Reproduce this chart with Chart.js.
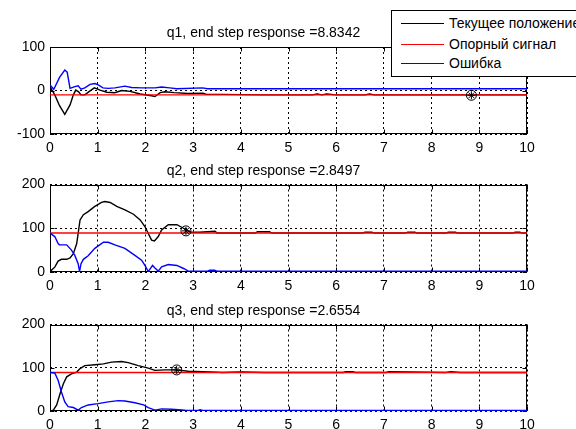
<!DOCTYPE html>
<html>
<head>
<meta charset="utf-8">
<script src="https://cdn.jsdelivr.net/npm/chart.js@4"></script>
<style>
  body { margin: 0; background: #fff; }
  #wrap { position: relative; width: 576px; height: 429px; overflow: hidden; font-family: "Liberation Sans", Arial, sans-serif; }
  canvas { position: absolute; left: 0; top: 0; }
  #legend { position: absolute; left: 391px; top: 10px; width: 240px; height: 65px; border: 1px solid #000; background: #fff; font-size: 14px; color: #000; z-index: 5; }
  #legend .row { position: absolute; left: 0; width: 100%; height: 20px; line-height: 20px; }
  #legend .row i { position: absolute; left: 9px; top: 10px; width: 43px; height: 1px; }
  #legend .row span { position: absolute; left: 57px; white-space: nowrap; }
</style>
</head>
<body>
<div id="wrap">
  <canvas id="q1" width="576" height="429"></canvas>
  <canvas id="q2" width="576" height="429"></canvas>
  <canvas id="q3" width="576" height="429"></canvas>
  <div id="legend"></div>
</div>
<script>
// подписи серий
const seriesNames = ['Текущее положение', 'Опорный сигнал', 'Ошибка'];

// q1
const q1PosT = [0, 0.1, 0.2, 0.31, 0.42, 0.49, 0.54, 0.6, 0.65, 0.73, 0.84, 0.93, 1.05, 1.19, 1.36, 1.5, 1.68, 1.89, 2.13, 2.2, 2.31, 2.41, 2.6, 2.9, 3.21, 3.28, 3.6, 4.5, 5.5, 5.6, 5.7, 5.8, 6.0, 6.6, 6.7, 6.8, 8, 9, 10];
const q1Pos  = [9, -10, -35, -55, -33, -10, 1, -3, -10, -10, -1, 6, 1, -4, -5, 0, -2, -8, -12, -14, -5, -3, -5, -7, -6, -9, -9, -10, -10, -8, -10, -8, -10, -10, -8, -10, -10, -10, -10];
const q1ErrT = [0, 0.08, 0.2, 0.31, 0.36, 0.42, 0.52, 0.59, 0.65, 0.73, 0.84, 0.94, 1.01, 1.11, 1.22, 1.36, 1.57, 1.71, 1.92, 2.2, 2.34, 2.51, 2.66, 3.2, 3.3, 4, 10];
const q1Err  = [13, 3, 30, 47, 42, 5, 9, 11, 3, 6, 14, 16, 13, 6, 5, 6, 10, 7, 6, 6, 8, 6, 4, 6, 4, 4, 4];
const q1Ref = -10;
const q1End = 8.8342;
const q1EndVal = -11;

// q2
const q2PosT = [0, 0.1, 0.17, 0.24, 0.35, 0.42, 0.49, 0.56, 0.63, 0.7, 0.8, 0.94, 1.08, 1.15, 1.26, 1.4, 1.57, 1.75, 1.89, 1.99, 2.06, 2.13, 2.19, 2.27, 2.34, 2.48, 2.66, 2.8, 2.94, 3.14, 3.46, 3.5, 4.3, 4.35, 4.6, 4.65, 6.55, 6.6, 6.75, 6.8, 7.45, 7.5, 7.65, 7.7, 8.3, 8.35, 8.5, 8.55, 9.7, 9.75, 9.85, 9.9, 10];
const q2Pos  = [1, 11, 25, 29, 29, 32, 42, 65, 119, 131, 138, 150, 159, 161, 159, 150, 142, 132, 119, 104, 88, 73, 71, 81, 96, 108, 108, 100, 91, 91, 93, 89, 89, 92, 92, 89, 89, 91, 91, 89, 89, 91, 91, 89, 89, 91, 91, 89, 89, 91, 91, 89, 89];
const q2ErrT = [0, 0.1, 0.17, 0.2, 0.35, 0.45, 0.52, 0.59, 0.62, 0.65, 0.7, 0.8, 0.94, 1.12, 1.22, 1.36, 1.57, 1.78, 1.92, 1.99, 2.06, 2.15, 2.2, 2.27, 2.34, 2.48, 2.66, 2.8, 2.9, 3.3, 3.35, 3.45, 3.5, 10];
const q2Err  = [89, 81, 65, 62, 62, 50, 38, 19, 1, 19, 29, 37, 54, 68, 68, 62, 54, 38, 27, 15, 1, 15, 9, 2, 12, 17, 15, 8, 2, 2, 4, 4, 2, 2];
const q2Ref = 89;
const q2End = 2.8497;
const q2EndVal = 94;

// q3
const q3PosT = [0, 0.07, 0.14, 0.21, 0.28, 0.35, 0.45, 0.56, 0.63, 0.73, 0.94, 1.12, 1.29, 1.5, 1.64, 1.85, 2.06, 2.2, 2.41, 2.64, 2.9, 3.2, 3.5, 3.6, 4, 4.5, 5, 6.15, 6.2, 6.35, 6.4, 7.05, 7.1, 8.3, 8.4, 8.6, 10];
const q3Pos  = [0, 2, 14, 40, 63, 79, 86, 90, 98, 105, 107, 109, 113, 114.5, 112, 105, 99, 94, 95, 95, 92, 91, 90, 89, 90, 89, 89, 89, 91, 91, 89, 89, 91, 89, 91, 89, 89];
const q3ErrT = [0, 0.1, 0.17, 0.24, 0.31, 0.38, 0.49, 0.59, 0.66, 0.8, 1.01, 1.22, 1.43, 1.57, 1.78, 1.96, 2.06, 2.2, 2.34, 2.55, 2.83, 3.1, 3.15, 3.2, 3.3, 10];
const q3Err  = [89, 88, 71, 44, 21, 10, 8, 2, 8, 14, 17, 21, 24, 23, 19, 14, 8, 2, 5, 4, 2, 1.5, 3, 1.5, 1.5, 1.5];
const q3Ref = 89;
const q3End = 2.6554;
const q3EndVal = 95;

const colors = ['#000000', '#ff0000', '#0000ff'];
const font = { family: '"Liberation Sans", Arial, sans-serif', size: 14 };

const pts = (t, v) => t.map((x, i) => ({ x: x, y: v[i] }));

// рамка осей + внутренние засечки
const frame = {
  id: 'frame',
  beforeDatasetsDraw(chart) {
    const { ctx, chartArea: a, scales } = chart;
    const L = Math.round(a.left) + 0.5, R = Math.round(a.right) - 0.5;
    const T = Math.round(a.top) + 0.5, B = Math.round(a.bottom) - 0.5;
    ctx.save();
    ctx.strokeStyle = '#000';
    ctx.lineWidth = 1;
    ctx.setLineDash([]);
    ctx.strokeRect(L, T, R - L, B - T);
    ctx.beginPath();
    scales.x.ticks.forEach(t => {
      const x = Math.round(scales.x.getPixelForValue(t.value)) + 0.5;
      ctx.moveTo(x, B); ctx.lineTo(x, B - 4);
      ctx.moveTo(x, T); ctx.lineTo(x, T + 4);
    });
    scales.y.ticks.forEach(t => {
      const y = Math.round(scales.y.getPixelForValue(t.value)) + 0.5;
      ctx.moveTo(L, y); ctx.lineTo(L + 4, y);
      ctx.moveTo(R, y); ctx.lineTo(R - 4, y);
    });
    ctx.stroke();
    ctx.restore();
  }
};

function makePlot(id, p) {
  const line = (data, color) => ({
    data: data, borderColor: color, borderWidth: 1.4, pointRadius: 0, tension: 0, fill: false
  });
  return new Chart(document.getElementById(id), {
    type: 'line',
    data: {
      datasets: [
        { data: [{ x: p.end, y: p.endVal }], showLine: false, pointStyle: 'star', pointRadius: 4, borderColor: '#000', borderWidth: 1 },
        { data: [{ x: p.end, y: p.endVal }], showLine: false, pointStyle: 'circle', pointRadius: 5, borderColor: '#000', backgroundColor: 'rgba(0,0,0,0)', borderWidth: 1 },
        line(pts(p.errT, p.err), colors[2]),
        line(pts([0, 10], [p.ref, p.ref]), colors[1]),
        line(pts(p.posT, p.pos), colors[0])
      ]
    },
    options: {
      responsive: false,
      animation: false,
      events: [],
      layout: { padding: { left: 0, right: 49, top: p.top - 21.8, bottom: 429 - p.bottom - 20 } },
      plugins: {
        legend: { display: false },
        tooltip: { enabled: false },
        title: { display: true, text: p.title, color: '#000', font: { ...font, weight: 'normal' }, padding: { top: 0, bottom: 5 } }
      },
      scales: {
        x: {
          type: 'linear', min: 0, max: 10,
          ticks: { stepSize: 1, color: '#000', font: font, padding: 6 },
          grid: { color: '#000', lineWidth: 1, drawTicks: false },
          border: { display: false, dash: [2, 3] },
          afterFit: s => { s.height = 20; }
        },
        y: {
          min: p.yMin, max: p.yMax,
          ticks: { stepSize: 100, color: '#000', font: font, padding: 5 },
          grid: { color: '#000', lineWidth: 1, drawTicks: false },
          border: { display: false, dash: [2, 3] },
          afterFit: s => { s.width = 50; }
        }
      }
    },
    plugins: [frame]
  });
}

makePlot('q1', { title: 'q1, end step response =' + q1End, top: 47, bottom: 134, yMin: -100, yMax: 100,
  posT: q1PosT, pos: q1Pos, errT: q1ErrT, err: q1Err, ref: q1Ref, end: q1End, endVal: q1EndVal });
makePlot('q2', { title: 'q2, end step response =' + q2End, top: 184.5, bottom: 272, yMin: 0, yMax: 200,
  posT: q2PosT, pos: q2Pos, errT: q2ErrT, err: q2Err, ref: q2Ref, end: q2End, endVal: q2EndVal });
makePlot('q3', { title: 'q3, end step response =' + q3End, top: 324.5, bottom: 411, yMin: 0, yMax: 200,
  posT: q3PosT, pos: q3Pos, errT: q3ErrT, err: q3Err, ref: q3Ref, end: q3End, endVal: q3EndVal });

// легенда поверх первого графика
const legend = document.getElementById('legend');
const rowTops = [2, 22.5, 42];
seriesNames.forEach((name, i) => {
  const row = document.createElement('div');
  row.className = 'row';
  row.style.top = rowTops[i] + 'px';
  row.innerHTML = '<i style="background:' + colors[i] + '"></i><span>' + name + '</span>';
  legend.appendChild(row);
});
</script>
</body>
</html>
